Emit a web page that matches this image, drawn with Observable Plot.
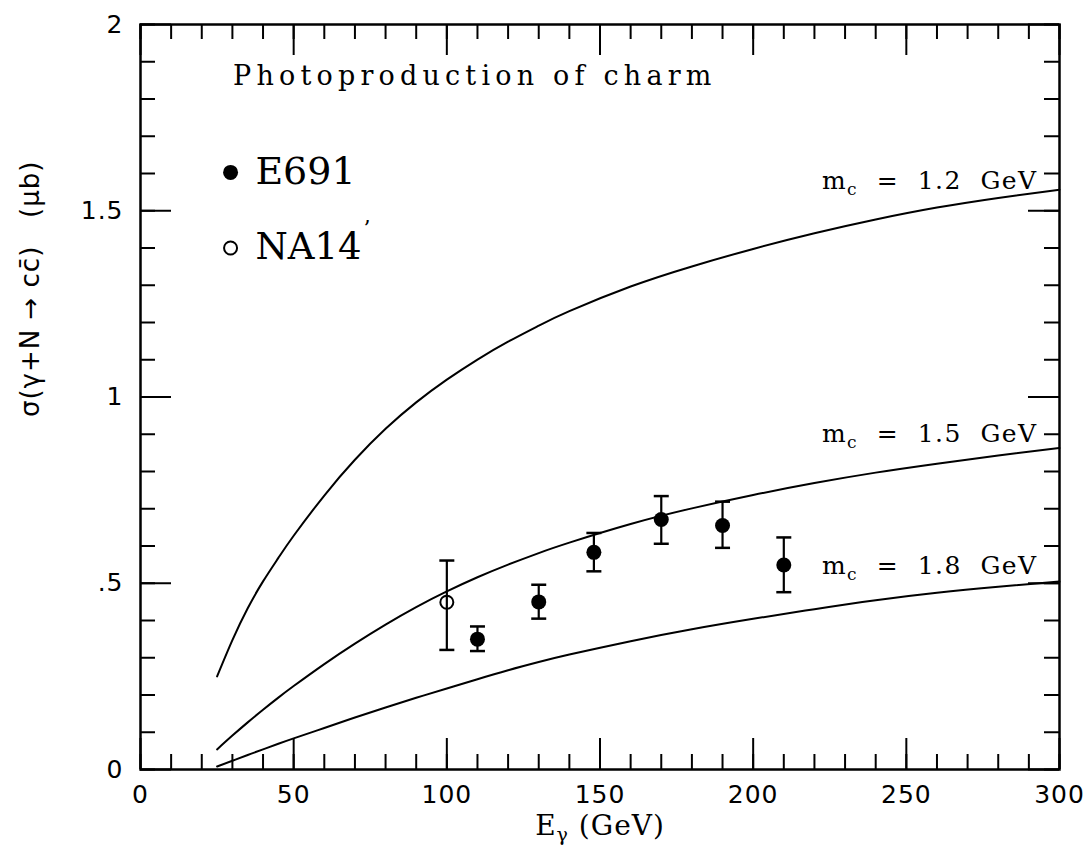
<!DOCTYPE html>
<html><head><meta charset="utf-8">
<script src="https://cdn.jsdelivr.net/npm/d3@7"></script>
<script src="https://cdn.jsdelivr.net/npm/@observablehq/plot@0.6"></script>
<style>body{margin:0;background:#fff}</style>
</head><body><div id="chart"></div>
<script>
// ---- data ----
const energies = [25,30,35,40,45,50,60,70,80,90,100,110,120,130,140,160,180,200,220,240,260,280,300];
const sigma12 = [0.25,0.3475,0.433,0.505,0.568,0.6275,0.7355,0.8315,0.9145,0.9855,1.0465,1.1005,1.1485,1.1915,1.2305,1.2965,1.3505,1.3975,1.4395,1.4765,1.5085,1.5345,1.5565];
const sigma15 = [0.054,0.091,0.1265,0.1605,0.193,0.224,0.283,0.338,0.389,0.436,0.478,0.516,0.55,0.581,0.609,0.659,0.701,0.737,0.769,0.797,0.821,0.843,0.863];
const sigma18 = [0.008,0.0235,0.039,0.054,0.069,0.0835,0.1115,0.1395,0.1665,0.1925,0.2175,0.2425,0.2665,0.2885,0.3085,0.3445,0.3765,0.4045,0.4305,0.4545,0.4745,0.4905,0.5045];
const curveLabels = ["mc = 1.2 GeV","mc = 1.5 GeV","mc = 1.8 GeV"];

const e691E = [110,130,148,170,190,210];
const e691Sigma = [0.350,0.450,0.583,0.671,0.655,0.549];
const e691Lo = [0.318,0.405,0.532,0.606,0.595,0.476];
const e691Hi = [0.384,0.496,0.635,0.734,0.719,0.623];

const na14E = [100];
const na14Sigma = [0.449];
const na14Lo = [0.321];
const na14Hi = [0.561];

const xMajor = [0,50,100,150,200,250,300];
const xMinor = d3.range(0,301,10);
const yMajor = [0,0.5,1,1.5,2];
const yMajorLabels = ["0",".5","1","1.5","2"];
const yMinor = d3.range(0,21).map(i=>i/10);

// ---- tables built from arrays ----
const curves = [sigma12, sigma15, sigma18].flatMap((s,k)=>energies.map((e,i)=>({e, s:s[i], m:curveLabels[k]})));
const e691 = e691E.map((e,i)=>({e, s:e691Sigma[i], lo:e691Lo[i], hi:e691Hi[i]}));
const na14 = na14E.map((e,i)=>({e, s:na14Sigma[i], lo:na14Lo[i], hi:na14Hi[i]}));
const errs = [...e691, ...na14];

const W=1092, H=850, ML=140, MR=33, MT=24, MB=81;
const IW = W-ML-MR, IH = H-MT-MB;
const serif = "DejaVu Serif";
const sans = "DejaVu Sans";
const cap = {draw(ctx){ ctx.moveTo(-7.5,0); ctx.lineTo(7.5,0); }};

const plot = Plot.plot({
  width: W, height: H,
  marginLeft: ML, marginRight: MR, marginTop: MT, marginBottom: MB,
  x: {domain:[0,300], label:null},
  y: {domain:[0,2], label:null},
  style: {background:"#fff", color:"#000", fontFamily: serif},
  marks: [
    // ticks (inside, all four sides)
    Plot.tickX(xMinor, {x:d=>d, insetTop: IH-15, strokeWidth:2}),
    Plot.tickX(xMajor, {x:d=>d, insetTop: IH-31, strokeWidth:2}),
    Plot.tickX(xMinor, {x:d=>d, insetBottom: IH-15, strokeWidth:2}),
    Plot.tickX(xMajor, {x:d=>d, insetBottom: IH-31, strokeWidth:2}),
    Plot.tickY(yMinor, {y:d=>d, insetRight: IW-15, strokeWidth:2}),
    Plot.tickY(yMajor, {y:d=>d, insetRight: IW-31, strokeWidth:2}),
    Plot.tickY(yMinor, {y:d=>d, insetLeft: IW-15, strokeWidth:2}),
    Plot.tickY(yMajor, {y:d=>d, insetLeft: IW-31, strokeWidth:2}),
    Plot.frame({stroke:"#000", strokeWidth:2.5}),
    Plot.axisX({ticks:xMajor, tickSize:0, tickPadding:16, fontSize:25, fontFamily:sans, label:null}),
    Plot.axisY({ticks:yMajor, tickSize:0, tickPadding:17, fontSize:25, fontFamily:sans, label:null,
      tickFormat: d => yMajorLabels[yMajor.indexOf(d)]}),
    // theory curves
    Plot.line(curves, {x:"e", y:"s", z:"m", curve:"natural", stroke:"#000", strokeWidth:2}),
    // error bars
    Plot.ruleX(errs, {x:"e", y1:"lo", y2:"hi", stroke:"#000", strokeWidth:2.2}),
    Plot.dot(errs, {x:"e", y:"lo", symbol:cap, stroke:"#000", strokeWidth:2.5, fill:"none"}),
    Plot.dot(errs, {x:"e", y:"hi", symbol:cap, stroke:"#000", strokeWidth:2.5, fill:"none"}),
    Plot.dot(e691, {x:"e", y:"s", r:7.5, fill:"#000", stroke:"none"}),
    Plot.dot(na14, {x:"e", y:"s", r:6.5, fill:"none", stroke:"#000", strokeWidth:2}),
    // legend
    Plot.dot([0], {x:()=>29.4, y:()=>1.603, r:7.5, fill:"#000", stroke:"none"}),
    Plot.dot([0], {x:()=>29.4, y:()=>1.40, r:6.5, fill:"none", stroke:"#000", strokeWidth:2}),
    Plot.text(["E691"], {x:()=>37.5, y:()=>1.605, text:d=>d, textAnchor:"start", fontSize:38, fontFamily:serif}),
    Plot.text(["NA14"], {x:()=>37.5, y:()=>1.403, text:d=>d, textAnchor:"start", fontSize:37, fontFamily:serif}),
    Plot.text(["’"], {x:()=>72.8, y:()=>1.45, text:d=>d, textAnchor:"start", fontSize:22, fontFamily:serif}),
    Plot.text(["Photoproduction of charm"], {x:()=>30.2, y:()=>1.862, text:d=>d, textAnchor:"start", fontSize:27, fontFamily:serif}),
    // curve labels
    Plot.text(curveLabels, {x:()=>292.8, y:(d,i)=>[1.581,0.902,0.546][i], text:d=>d, textAnchor:"end", fontSize:25, fontFamily:serif}),
    // axis titles
    Plot.text(["Eγ (GeV)"], {frameAnchor:"bottom", dy:65, text:d=>d, fontSize:28, fontFamily:serif}),
    Plot.text(["σ(γ+N → cc̄)   (μb)"], {frameAnchor:"left", dx:-110, dy:20, rotate:-90, text:d=>d, fontSize:26, fontFamily:sans})
  ]
});

// post-process: subscripts and spacing
d3.select(plot).selectAll("text").each(function(){
  const s = this.textContent;
  const el = d3.select(this);
  if (s === "Photoproduction of charm") {
    el.style("letter-spacing","5.2px");
  } else if (curveLabels.includes(s)) {
    el.text("").style("white-space","pre").style("letter-spacing","1.4px");
    el.append("tspan").text("m");
    el.append("tspan").attr("font-size","17").attr("dy","6").text("c");
    el.append("tspan").attr("dy","-6").text("  =  " + s.slice(5).replace(" GeV","  GeV"));
  } else if (s === "Eγ (GeV)") {
    el.text("").style("letter-spacing","1px");
    el.append("tspan").text("E");
    el.append("tspan").attr("font-size","19").attr("dy","6").text("γ");
    el.append("tspan").attr("dy","-6").text(" (GeV)");
  } else if (s.startsWith("σ(")) {
    el.style("white-space","pre").style("letter-spacing","1px");
  }
});
d3.select(plot).selectAll("g[aria-label='x-axis tick label'] text, g[aria-label='y-axis tick label'] text").style("letter-spacing","1px");
document.getElementById("chart").append(plot);
</script>
</body></html>
